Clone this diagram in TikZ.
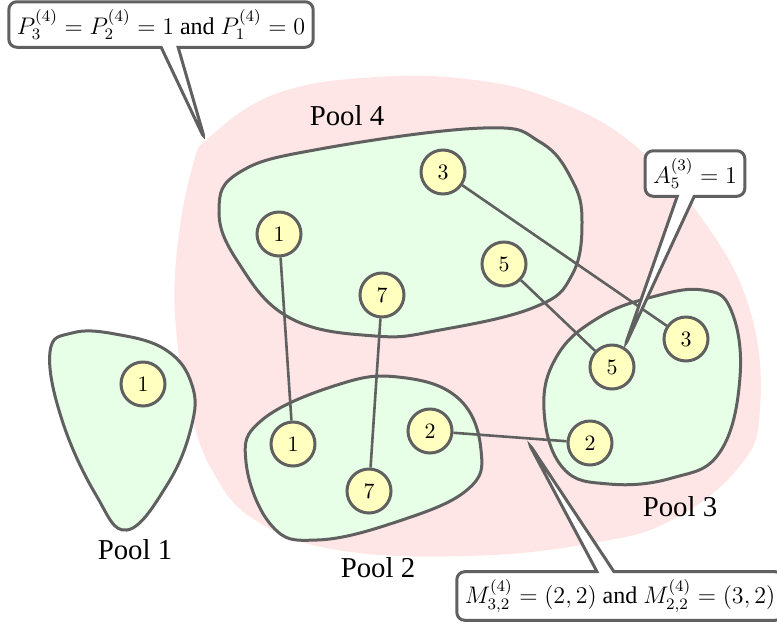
\documentclass[tikz,border=0pt]{standalone}
\usepackage[no-math]{fontspec}
\setmainfont{Liberation Serif}
\usetikzlibrary{shapes.callouts}
\definecolor{linegray}{RGB}{96,96,96}
\definecolor{pinkbg}{RGB}{255,230,230}
\definecolor{greenbg}{RGB}{230,255,230}
\definecolor{yellowbg}{RGB}{255,255,192}
\begin{document}
\begin{tikzpicture}[x=0.5pt,y=-0.5pt,
  vert/.style={circle,draw=linegray,fill=yellowbg,line width=1.5pt,minimum size=22pt,inner sep=0pt,font=\fontsize{11}{13}\selectfont},
  poolblob/.style={draw=linegray,fill=greenbg,line width=1.5pt},
  edgeline/.style={draw=linegray,line width=1.3pt},
  poollabel/.style={font=\fontsize{14.4}{17}\selectfont},
  note/.style={rectangle callout,draw=linegray,fill=white,line width=1.5pt,rounded corners=4pt,inner sep=4pt,callout pointer width=8.5pt,font=\fontsize{12}{14}\selectfont}
]
\useasboundingbox (0,0) rectangle (777,628);

% background region
\fill[pinkbg] plot[smooth cycle,tension=0.7] coordinates {
  (192,168) (176,260) (177,340) (190,410) (213,472) (255,520) (337,550)
  (470,556) (593,543) (672,520) (739,467) (760,410) (750,310) (703,220)
  (632,143) (554,100) (475,80) (376,77) (278,93) (212,135)};

% pools
\draw[poolblob] plot[smooth cycle,tension=0.7] coordinates {
  (219,210) (240,172) (320,149) (483,128) (540,142) (572,180) (582,222)
  (572,275) (535,307) (440,330) (375,336) (290,318) (238,262)};
\draw[poolblob] plot[smooth cycle,tension=0.7] coordinates {
  (246,462) (262,420) (337,385) (398,377) (458,398) (481,450) (467,490)
  (396,522) (317,540) (272,526)};
\draw[poolblob] plot[smooth cycle,tension=0.7] coordinates {
  (544,410) (557,356) (598,318) (652,297) (703,290) (731,310) (740,377)
  (720,452) (672,478) (609,484) (563,468)};
\draw[poolblob] plot[smooth cycle,tension=0.7] coordinates {
  (50,352) (72,333) (115,334) (166,350) (192,385) (191,428) (167,485)
  (127,530) (96,495) (62,420)};

% vertices
\node[vert] (a3) at (443,172) {$3$};
\node[vert] (a1) at (279,234) {$1$};
\node[vert] (a7) at (382,295) {$7$};
\node[vert] (a5) at (504,264) {$5$};
\node[vert] (b1) at (293,444) {$1$};
\node[vert] (b7) at (369,491) {$7$};
\node[vert] (b2) at (430,431) {$2$};
\node[vert] (c3) at (686,339) {$3$};
\node[vert] (c5) at (612,367) {$5$};
\node[vert] (c2) at (590,443) {$2$};
\node[vert] (d1) at (143,384) {$1$};

% edges
\draw[edgeline] (a3) -- (c3);
\draw[edgeline] (a1) -- (b1);
\draw[edgeline] (a7) -- (b7);
\draw[edgeline] (a5) -- (c5);
\draw[edgeline] (b2) -- (c2);

% labels
\node[poollabel] (l4) at (347,116) {Pool 4};
\node[poollabel] (l1) at (135,550) {Pool 1};
\node[poollabel] (l2) at (378,568) {Pool 2};
\node[poollabel] (l3) at (680,507) {Pool 3};

% callouts
\coordinate (tipP) at (205,140);
\coordinate (tipM) at (528,442);
\node[note,callout absolute pointer=(tipP)] (nP) at (161,24.5)
  {$P_3^{(4)} = P_2^{(4)} = 1$ and $P_1^{(4)} = 0$};
\node[note,callout absolute pointer=(c5.58)] (nA) at (695,173.5)
  {$A_5^{(3)} = 1$};
\node[note,callout absolute pointer=(tipM)] (nM) at (620,596)
  {$M_{3,2}^{(4)} = (2,2)$ and $M_{2,2}^{(4)} = (3,2)$};
\end{tikzpicture}
\end{document}
